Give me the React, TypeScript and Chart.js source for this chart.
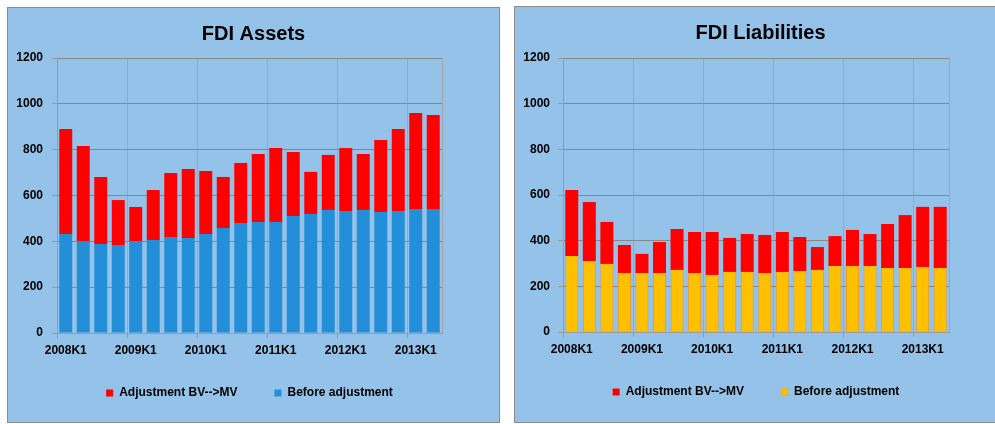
import React, { useEffect, useRef } from 'react';
import { Chart, registerables } from 'chart.js';

Chart.register(...registerables);

const quarters = [
  '2008K1', '2008K2', '2008K3', '2008K4',
  '2009K1', '2009K2', '2009K3', '2009K4',
  '2010K1', '2010K2', '2010K3', '2010K4',
  '2011K1', '2011K2', '2011K3', '2011K4',
  '2012K1', '2012K2', '2012K3', '2012K4',
  '2013K1', '2013K2',
];

const assetsBefore = [432, 401, 388, 384, 401, 406, 419, 415, 432, 458, 480, 484, 484, 511, 519, 537, 532, 537, 528, 532, 541, 541];
const assetsAdjustment = [458, 415, 293, 196, 149, 218, 279, 301, 275, 223, 262, 297, 323, 279, 184, 240, 275, 244, 314, 358, 419, 410];

const liabilitiesBefore = [333, 311, 298, 258, 258, 258, 272, 258, 250, 263, 263, 258, 263, 267, 272, 289, 289, 289, 280, 280, 285, 280];
const liabilitiesAdjustment = [289, 258, 184, 123, 84, 136, 179, 180, 188, 149, 166, 167, 175, 149, 100, 131, 158, 140, 193, 232, 263, 268];

const yTicks = { min: 0, max: 1200, step: 200 };

const FONT = "'Liberation Sans', Arial, sans-serif";
const GRID_V = '#a6a6a6';
const GRID_H = '#878787';
const AXIS = '#9a9a9a';

// let the x tick labels draw below a compact x-axis box (no clipping)
const unclipXLabels = {
  id: 'unclipXLabels',
  beforeDraw(chart: any) {
    const s = chart.scales && chart.scales.x;
    if (s) s._computeLabelArea = () => undefined;
  },
};

type PanelProps = {
  left: number;
  top: number;
  width: number;
  height: number;
  title: string;
  before: number[];
  adjustment: number[];
  beforeColor: string;
  beforeBorder?: string;
  yAxisWidth: number;
  yTickPad: number;
  titlePadBottom: number;
  padBottom: number;
};

function Panel(p: PanelProps) {
  const ref = useRef<HTMLCanvasElement | null>(null);
  const cw = p.width - 2;
  const ch = p.height - 2;

  useEffect(() => {
    if (!ref.current) return;
    const chart = new Chart(ref.current, {
      type: 'bar',
      data: {
        labels: quarters,
        datasets: [
          {
            label: 'Before adjustment',
            data: p.before,
            backgroundColor: p.beforeColor,
            borderColor: p.beforeBorder || p.beforeColor,
            borderWidth: p.beforeBorder ? { left: 1, right: 1, top: 0, bottom: 0 } : 0,
            categoryPercentage: 1,
            barPercentage: 0.74,
          },
          {
            label: 'Adjustment BV-->MV',
            data: p.adjustment,
            backgroundColor: '#FF0000',
            borderWidth: 0,
            categoryPercentage: 1,
            barPercentage: 0.74,
          },
        ],
      },
      plugins: [unclipXLabels],
      options: {
        responsive: false,
        animation: false,
        layout: { padding: { left: 0, right: 0, top: 0, bottom: p.padBottom } },
        plugins: {
          title: {
            display: true,
            text: p.title,
            color: '#000',
            font: { family: FONT, size: 20, weight: 'bold' },
            padding: { top: 14, bottom: p.titlePadBottom },
          },
          legend: {
            position: 'bottom',
            fullSize: false,
            reverse: true,
            labels: {
              boxWidth: 7,
              boxHeight: 7,
              padding: 37,
              color: '#000',
              font: { family: FONT, size: 12, weight: 'bold' },
            },
          },
          tooltip: { enabled: false },
        },
        scales: {
          x: {
            stacked: true,
            offset: true,
            grid: {
              offset: true,
              drawTicks: true,
              tickLength: 5,
              color: (c: any) => (c.type !== 'tick' || c.index % 4 === 0 ? GRID_V : 'rgba(0,0,0,0)'),
              tickColor: (c: any) => (c.type === 'tick' && c.index % 4 === 0 ? AXIS : 'rgba(0,0,0,0)'),
            },
            border: { color: AXIS },
            ticks: {
              autoSkip: false,
              maxRotation: 0,
              minRotation: 0,
              padding: 5,
              color: '#000',
              font: { family: FONT, size: 12, weight: 'bold' },
              callback: (_v: any, i: number) => (quarters[i].endsWith('K1') ? quarters[i] : ''),
            },
            afterFit: (s: any) => {
              s.height = 17;
            },
          },
          y: {
            stacked: true,
            min: yTicks.min,
            max: yTicks.max,
            ticks: {
              stepSize: yTicks.step,
              padding: p.yTickPad,
              color: '#000',
              font: { family: FONT, size: 12, weight: 'bold' },
              callback: (v: any) => String(v),
            },
            grid: { color: GRID_H, tickColor: AXIS, tickLength: 5 },
            border: { color: AXIS },
            afterFit: (s: any) => {
              s.width = p.yAxisWidth;
            },
          },
          y2: {
            position: 'right',
            display: true,
            grid: { display: false, drawOnChartArea: false },
            border: { display: false },
            ticks: { display: false },
            afterFit: (s: any) => {
              s.width = 57;
            },
          },
        },
      } as any,
    });
    return () => chart.destroy();
  }, []);

  return (
    <div
      style={{
        position: 'absolute',
        left: p.left,
        top: p.top,
        width: p.width,
        height: p.height,
        boxSizing: 'border-box',
        border: '1px solid #8c8c8c',
        background: '#94C2E8',
      }}
    >
      <canvas ref={ref} width={cw} height={ch} style={{ display: 'block', width: cw, height: ch }} />
    </div>
  );
}

export default function App() {
  return (
    <div
      style={{
        position: 'absolute',
        left: 0,
        top: 0,
        width: 995,
        height: 424,
        overflow: 'hidden',
        background: '#fff',
      }}
    >
      <Panel
        left={7}
        top={7}
        width={493}
        height={416}
        title="FDI Assets"
        before={assetsBefore}
        adjustment={assetsAdjustment}
        beforeColor="#228FD8"
        yAxisWidth={49}
        yTickPad={9}
        titlePadBottom={12}
        padBottom={13}
      />
      <Panel
        left={514}
        top={6}
        width={493}
        height={417}
        title="FDI Liabilities"
        before={liabilitiesBefore}
        adjustment={liabilitiesAdjustment}
        beforeColor="#FFC000"
        beforeBorder="#F59B1B"
        yAxisWidth={48}
        yTickPad={8}
        titlePadBottom={13}
        padBottom={14}
      />
    </div>
  );
}
